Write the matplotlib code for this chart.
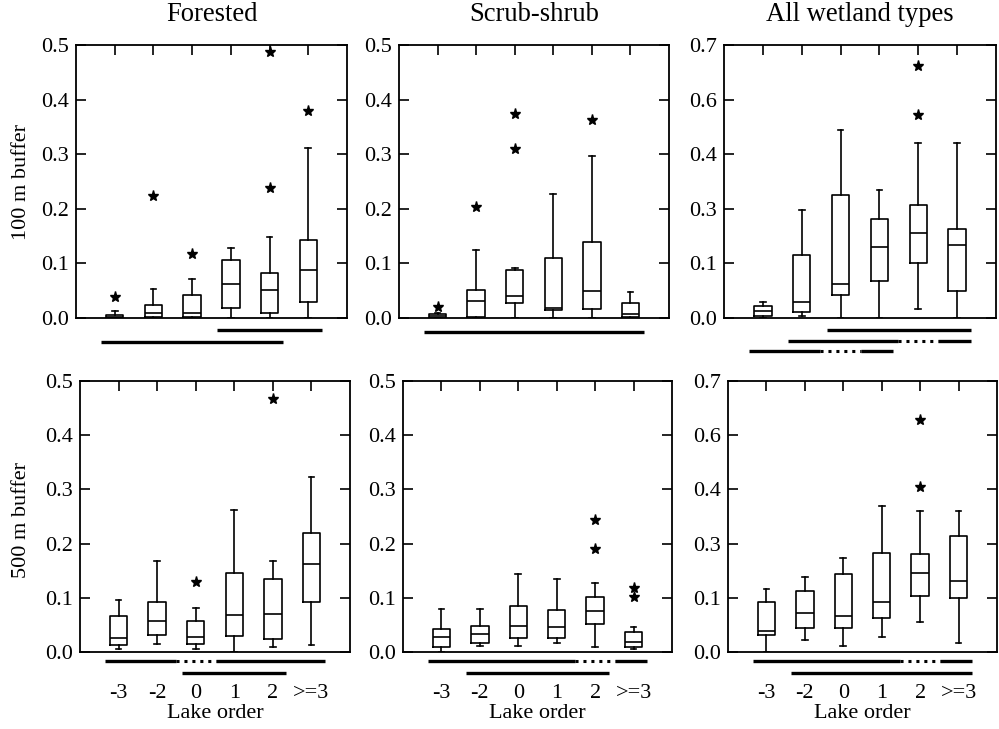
import numpy as np
import matplotlib
matplotlib.use('Agg')
import matplotlib.pyplot as plt
from matplotlib.transforms import blended_transform_factory

plt.rcParams['font.family'] = ['Liberation Serif', 'DejaVu Serif']
plt.rcParams['font.size'] = 16

# lake order classes
categories = ['-3', '-2', '0', '1', '2', '>=3']

# box summaries per lake order: (whisker low, q1, median, q3, whisker high)
forested_100 = [(0.0, 0.0, 0.002, 0.006, 0.012), (0.0, 0.001, 0.010, 0.024, 0.053),
                (0.0, 0.001, 0.009, 0.043, 0.072), (0.0, 0.018, 0.062, 0.106, 0.128),
                (0.0, 0.010, 0.051, 0.083, 0.148), (0.0, 0.030, 0.088, 0.143, 0.311)]
forested_100_out = [[0.038], [0.223], [0.117], [], [0.238, 0.487], [0.379]]

scrub_100 = [(0.0, 0.0, 0.003, 0.007, 0.010), (0.0, 0.001, 0.031, 0.052, 0.125),
             (0.0, 0.028, 0.041, 0.088, 0.091), (0.0, 0.015, 0.018, 0.109, 0.228),
             (0.0, 0.016, 0.049, 0.140, 0.297), (0.0, 0.002, 0.007, 0.027, 0.047)]
scrub_100_out = [[0.020], [0.204], [0.310, 0.373], [], [0.362], []]

all_100 = [(0.0, 0.004, 0.017, 0.030, 0.042), (0.006, 0.016, 0.040, 0.162, 0.278),
           (0.0, 0.060, 0.086, 0.316, 0.482), (0.0, 0.094, 0.182, 0.254, 0.329),
           (0.023, 0.141, 0.217, 0.290, 0.449), (0.0, 0.070, 0.186, 0.227, 0.449)]
all_100_out = [[], [], [], [], [0.520, 0.647], []]

forested_500 = [(0.005, 0.012, 0.026, 0.066, 0.096), (0.015, 0.031, 0.057, 0.092, 0.167),
                (0.005, 0.015, 0.027, 0.058, 0.081), (0.0, 0.030, 0.068, 0.146, 0.262),
                (0.010, 0.024, 0.070, 0.135, 0.167), (0.013, 0.093, 0.162, 0.220, 0.323)]
forested_500_out = [[], [], [0.130], [], [0.467], []]

scrub_500 = [(0.0, 0.009, 0.027, 0.042, 0.079), (0.011, 0.017, 0.034, 0.048, 0.079),
             (0.011, 0.025, 0.048, 0.085, 0.144), (0.017, 0.026, 0.047, 0.077, 0.135),
             (0.010, 0.051, 0.076, 0.102, 0.127), (0.005, 0.010, 0.019, 0.036, 0.047)]
scrub_500_out = [[], [], [], [], [0.190, 0.244], [0.102, 0.118]]

all_500 = [(0.0, 0.044, 0.055, 0.128, 0.162), (0.031, 0.061, 0.100, 0.158, 0.195),
           (0.016, 0.063, 0.094, 0.202, 0.244), (0.038, 0.089, 0.128, 0.257, 0.377),
           (0.077, 0.145, 0.205, 0.254, 0.364), (0.024, 0.140, 0.183, 0.300, 0.363)]
all_500_out = [[], [], [], [], [0.425, 0.600], []]

# groups of lake orders not significantly different (index into categories)
forested_100_groups = [[3, 4, 5], [0, 1, 2, 3, 4]]
scrub_100_groups = [[0, 1, 2, 3, 4, 5]]
all_100_groups = [[2, 3, 4, 5], [1, 2, 3, 5], [0, 1, 3]]
forested_500_groups = [[0, 1, 3, 4, 5], [2, 3, 4]]
scrub_500_groups = [[0, 1, 2, 3, 5], [1, 2, 3, 4]]
all_500_groups = [[0, 1, 2, 3, 5], [1, 2, 3, 4, 5]]

W, H = 999, 729
fig = plt.figure(figsize=(W / 100, H / 100), dpi=100)


def make_axes(l, r, t, b):
    return fig.add_axes([l / W, 1 - b / H, (r - l) / W, (b - t) / H])


def draw_groups(ax, groups, y0, dy):
    trans = blended_transform_factory(ax.transData, ax.transAxes)
    for k, g in enumerate(groups):
        y = y0 - k * dy
        start, end = min(g) + 1 - 0.35, max(g) + 1 + 0.35
        missing = [i for i in range(min(g), max(g) + 1) if i not in g]
        x = start
        for m in missing:
            ax.plot([x, m + 1 - 0.52], [y, y], color='black', lw=2.4,
                    transform=trans, clip_on=False, solid_capstyle='butt')
            ax.plot([m + 1 - 0.52, m + 1 + 0.52], [y, y], color='black', lw=2.2,
                    ls=(0, (1, 1.6)), transform=trans, clip_on=False)
            x = m + 1 + 0.52
        ax.plot([x, end], [y, y], color='black', lw=2.4, transform=trans,
                clip_on=False, solid_capstyle='butt')


def panel(ax, summary, outliers, groups, ymax, bottom_row, y0, dy):
    stats = []
    for (lo, q1, med, q3, hi), fl in zip(summary, outliers):
        stats.append(dict(whislo=lo, q1=q1, med=med, q3=q3, whishi=hi, fliers=fl))
    line = dict(color='black', linewidth=1.2)
    ax.bxp(stats, positions=range(1, 7), widths=0.45, capwidths=0.15,
           boxprops=line, medianprops=line, whiskerprops=line, capprops=line,
           flierprops=dict(marker='*', markerfacecolor='black', markeredgecolor='black',
                           markersize=8, linestyle='none'),
           manage_ticks=False)
    ax.set_xlim(0, 7)
    ax.set_ylim(0, ymax)
    ax.set_yticks(np.linspace(0, ymax, 6))
    ax.set_yticklabels(['%.1f' % v for v in np.linspace(0, ymax, 6)])
    ax.set_xticks(range(1, 7))
    ax.set_xticklabels(categories)
    ax.tick_params(axis='y', direction='in', left=True, right=True, length=7, width=1.2, pad=5)
    ax.tick_params(axis='x', direction='in', top=True, bottom=False, length=7, width=1.2,
                   labelbottom=bottom_row, pad=23)
    for s in ax.spines.values():
        s.set_linewidth(1.3)
    if bottom_row:
        ax.set_xlabel('Lake order', labelpad=1)
    draw_groups(ax, groups, y0, dy)


ax1 = make_axes(76, 347, 45, 318)
ax2 = make_axes(399, 669, 45, 318)
ax3 = make_axes(724, 996, 45, 318)
ax4 = make_axes(80, 350, 381, 652)
ax5 = make_axes(403, 672, 381, 652)
ax6 = make_axes(728, 997, 381, 652)

panel(ax1, forested_100, forested_100_out, forested_100_groups, 0.5, False, -0.045, 0.042)
panel(ax2, scrub_100, scrub_100_out, scrub_100_groups, 0.5, False, -0.05, 0.042)
panel(ax3, all_100, all_100_out, all_100_groups, 0.7, False, -0.045, 0.038)
panel(ax4, forested_500, forested_500_out, forested_500_groups, 0.5, True, -0.032, 0.044)
panel(ax5, scrub_500, scrub_500_out, scrub_500_groups, 0.5, True, -0.032, 0.044)
panel(ax6, all_500, all_500_out, all_500_groups, 0.7, True, -0.032, 0.044)

for ax, title in zip([ax1, ax2, ax3], ['Forested', 'Scrub-shrub', 'All wetland types']):
    ax.set_title(title, pad=17)

fig.text(22 / W, 1 - 182 / H, '100 m buffer', rotation=90, ha='center', va='center')
fig.text(22 / W, 1 - 520 / H, '500 m buffer', rotation=90, ha='center', va='center')

fig.savefig('out.png', dpi=100)
